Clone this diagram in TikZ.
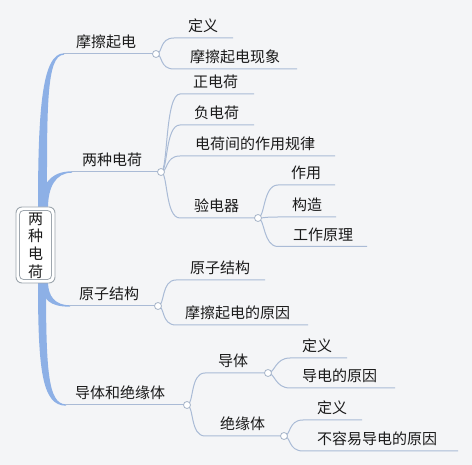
\documentclass[tikz,border=0pt]{standalone}
\usepackage{fontspec}
\setmainfont{Noto Sans CJK SC}
\definecolor{bg}{HTML}{F4F5F7}
\definecolor{lineC}{HTML}{AABBD6}
\definecolor{trunkC}{HTML}{8DB0E6}
\definecolor{dotC}{HTML}{A6B4C8}
\definecolor{txt}{HTML}{1A1A1A}
\definecolor{boxC}{HTML}{9EA6AE}
\begin{document}
\begin{tikzpicture}[x=1pt,y=-1pt,
  lbl/.style={inner sep=0pt, anchor=base west, text=txt, font=\fontsize{15}{18}\selectfont},
  br/.style={draw=lineC, line width=1pt},
  dot/.style={circle, draw=dotC, fill=white, minimum size=7pt, inner sep=0pt, line width=0.8pt},
  trunk/.style={fill=trunkC, draw=none},
  curve/.style={to path={.. controls +(7,0) and +(-15,0) .. (\tikztotarget)}}]
\fill[bg] (0,0) rectangle (472,465);
\useasboundingbox (0,0) rectangle (472,465);

% trunks
\fill[trunk] (38,208) .. controls (38,110) and (42,53.3) .. (64,53.3) -- (64,54.7) .. controls (46,54.7) and (47,110) .. (47,208) -- cycle;
\fill[trunk] (40,208) .. controls (41,185) and (50,171.3) .. (72,171.3) -- (72,172.7) .. controls (55,172.7) and (48,188) .. (48,208) -- cycle;
\fill[trunk] (41,282) .. controls (42,300) and (50,306.7) .. (70,306.7) -- (70,305.3) .. controls (55,305.3) and (48,296) .. (48,282) -- cycle;
\fill[trunk] (38,282) .. controls (38,370) and (42,405.7) .. (66,405.7) -- (66,404.3) .. controls (48,404.3) and (46,370) .. (46,282) -- cycle;

% root
\draw[boxC, fill=white, line width=0.9pt, rounded corners=6pt] (16,207) rectangle (55,283);
\draw[boxC, line width=0.8pt, rounded corners=4pt] (19.5,210.5) rectangle (51.5,279.5);
\node[inner sep=0pt, text=txt, align=center, font=\fontsize{15}{17.7}\selectfont] (root) at (35.5,245.5) {两\\种\\电\\荷};

% level 1
\coordinate (t1) at (63,54);  \coordinate (c1) at (156,54);
\coordinate (t2) at (71,172); \coordinate (c2) at (161,172);
\coordinate (t3) at (69,306); \coordinate (c3) at (158,306);
\coordinate (t4) at (65,405); \coordinate (c4) at (187,405);
\node[lbl] (n1) at (76,48) {摩擦起电};
\node[lbl] (n2) at (82,166) {两种电荷};
\node[lbl] (n3) at (79,300) {原子结构};
\node[lbl] (n4) at (75,399) {导体和绝缘体};
\draw[br] (t1) -- (c1);
\draw[br] (t2) -- (c2);
\draw[br] (t3) -- (c3);
\draw[br] (t4) -- (c4);

% children of c1
\coordinate (a1s) at (174,38); \coordinate (a1e) at (233,38);
\coordinate (a2s) at (174,69); \coordinate (a2e) at (297,69);
\node[lbl] (a1) at (188,32) {定义};
\node[lbl] (a2) at (190,63) {摩擦起电现象};
\draw[br] (c1) to[curve] (a1s) -- (a1e);
\draw[br] (c1) to[curve] (a2s) -- (a2e);

% children of c2
\coordinate (b1s) at (180,94);  \coordinate (b1e) at (254,94);
\coordinate (b2s) at (180,125); \coordinate (b2e) at (254,125);
\coordinate (b3s) at (180,156); \coordinate (b3e) at (335,156);
\coordinate (b4s) at (180,218); \coordinate (c5) at (258,218);
\node[lbl] (b1) at (193,88) {正电荷};
\node[lbl] (b2) at (194,119) {负电荷};
\node[lbl] (b3) at (195,150) {电荷间的作用规律};
\node[lbl] (b4) at (194,212) {验电器};
\draw[br] (c2) to[curve] (b1s) -- (b1e);
\draw[br] (c2) to[curve] (b2s) -- (b2e);
\draw[br] (c2) to[curve] (b3s) -- (b3e);
\draw[br] (c2) to[curve] (b4s) -- (c5);

% children of c5 (验电器)
\coordinate (e1s) at (278,185); \coordinate (e1e) at (335,185);
\coordinate (e2s) at (278,217); \coordinate (e2e) at (336,217);
\coordinate (e3s) at (278,246.5); \coordinate (e3e) at (367,246.5);
\node[lbl] (e1) at (291,179) {作用};
\node[lbl] (e2) at (292,211) {构造};
\node[lbl] (e3) at (293,240.5) {工作原理};
\draw[br] (c5) to[curve] (e1s) -- (e1e);
\draw[br] (c5) to[curve] (e2s) -- (e2e);
\draw[br] (c5) to[curve] (e3s) -- (e3e);

% children of c3
\coordinate (f1s) at (176,280); \coordinate (f1e) at (265,280);
\coordinate (f2s) at (176,325); \coordinate (f2e) at (308,325);
\node[lbl] (f1) at (190,274) {原子结构};
\node[lbl] (f2) at (185,319) {摩擦起电的原因};
\draw[br] (c3) to[curve] (f1s) -- (f1e);
\draw[br] (c3) to[curve] (f2s) -- (f2e);

% children of c4
\coordinate (g1s) at (205,373); \coordinate (c6) at (268,373);
\coordinate (g2s) at (205,436); \coordinate (c7) at (284,436);
\node[lbl] (g1) at (218,367) {导体};
\node[lbl] (g2) at (220,430) {绝缘体};
\draw[br] (c4) to[curve] (g1s) -- (c6);
\draw[br] (c4) to[curve] (g2s) -- (c7);

% children of c6 (导体)
\coordinate (h1s) at (290,358); \coordinate (h1e) at (347,358);
\coordinate (h2s) at (290,388); \coordinate (h2e) at (395,388);
\node[lbl] (h1) at (302,352) {定义};
\node[lbl] (h2) at (302,382) {导电的原因};
\draw[br] (c6) to[curve] (h1s) -- (h1e);
\draw[br] (c6) to[curve] (h2s) -- (h2e);

% children of c7 (绝缘体)
\coordinate (k1s) at (303,420); \coordinate (k1e) at (362,420);
\coordinate (k2s) at (303,451); \coordinate (k2e) at (458,451);
\node[lbl] (k1) at (317,414) {定义};
\node[lbl] (k2) at (317,445) {不容易导电的原因};
\draw[br] (c7) to[curve] (k1s) -- (k1e);
\draw[br] (c7) to[curve] (k2s) -- (k2e);

% junction dots
\foreach \c in {c1,c2,c3,c4,c5,c6,c7} \node[dot] at (\c) {};
\end{tikzpicture}
\end{document}
